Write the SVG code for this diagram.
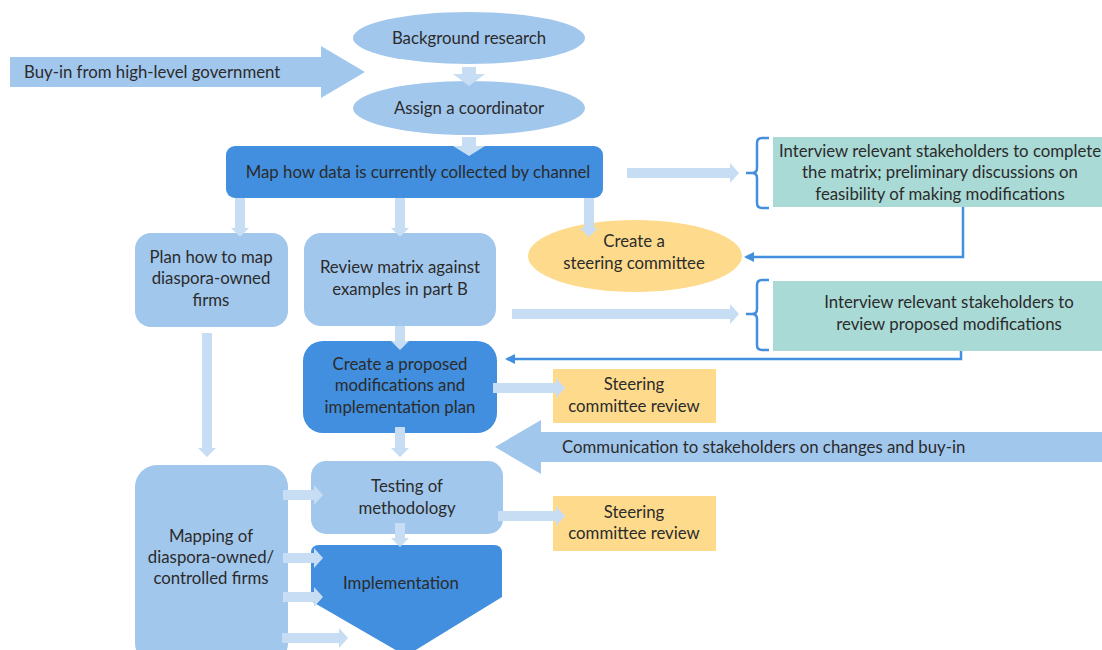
<svg xmlns="http://www.w3.org/2000/svg" width="1102" height="650" viewBox="0 0 1102 650">
<defs>
<style>
.t{font-family:Lato,"Open Sans","Liberation Sans",sans-serif;font-size:16.8px;fill:#2b2b2b;text-anchor:middle;dominant-baseline:central}
.tl{text-anchor:start}
.light{fill:#a2c7ed}
.dark{fill:#418fde}
.yel{fill:#fedb8c}
.teal{fill:#aadad6}
.arr{fill:#c7ddf4}
.ln{fill:none;stroke:#418fde;stroke-width:2.5}
</style>
<marker id="ah" viewBox="0 0 10 10" refX="8" refY="5" markerWidth="4" markerHeight="4" orient="auto">
<path d="M0,0 L10,5 L0,10 Z" fill="#418fde"/>
</marker>
</defs>
<rect width="1102" height="650" fill="#ffffff"/>

<g id="buyin">
<path class="light" d="M10,57 H321 V46 L365,72 L321,98 V87 H10 Z"/>
<text class="t tl" x="24" y="71">Buy-in from high-level government</text>
</g>

<g id="background">
<ellipse class="light" cx="469" cy="38" rx="116" ry="26"/>
<text class="t" x="469" y="37">Background research</text>
</g>

<g id="coordinator">
<ellipse class="light" cx="469" cy="108" rx="116" ry="27"/>
<text class="t" x="469" y="107">Assign a coordinator</text>
</g>

<g id="mapdata">
<rect class="dark" x="226" y="146" width="377" height="52" rx="9"/>
<text class="t" x="418" y="171">Map how data is currently collected by channel</text>
</g>

<g id="interview1">
<rect class="teal" x="773" y="137" width="329" height="70"/>
<text class="t" x="940" y="150">Interview relevant stakeholders to complete</text>
<text class="t" x="940" y="171">the matrix; preliminary discussions on</text>
<text class="t" x="940" y="193">feasibility of making modifications</text>
</g>

<g id="plan">
<rect class="light" x="135" y="233" width="153" height="94" rx="16"/>
<text class="t" x="211" y="256">Plan how to map</text>
<text class="t" x="211" y="277">diaspora-owned</text>
<text class="t" x="211" y="299">firms</text>
</g>

<g id="review">
<rect class="light" x="304" y="233" width="192" height="93" rx="17"/>
<text class="t" x="400" y="266">Review matrix against</text>
<text class="t" x="400" y="288">examples in part B</text>
</g>

<g id="steering">
<ellipse class="yel" cx="635" cy="256" rx="107" ry="36"/>
<text class="t" x="634" y="240">Create a</text>
<text class="t" x="634" y="262">steering committee</text>
</g>

<g id="interview2">
<rect class="teal" x="773" y="281" width="329" height="70"/>
<text class="t" x="949" y="301">Interview relevant stakeholders to</text>
<text class="t" x="949" y="323">review proposed modifications</text>
</g>

<g id="create">
<rect class="dark" x="303" y="341" width="194" height="92" rx="20"/>
<text class="t" x="400" y="363">Create a proposed</text>
<text class="t" x="400" y="384">modifications and</text>
<text class="t" x="400" y="406">implementation plan</text>
</g>

<g id="review1">
<rect class="yel" x="553" y="369" width="163" height="54"/>
<text class="t" x="634" y="383">Steering</text>
<text class="t" x="634" y="405">committee review</text>
</g>

<g id="communication">
<path class="light" d="M1102,432 H541 V420 L495,447 L541,474 V462 H1102 Z"/>
<text class="t tl" x="562" y="446">Communication to stakeholders on changes and buy-in</text>
</g>

<g id="mapping">
<rect class="light" x="135" y="465" width="153" height="200" rx="22"/>
<text class="t" x="211" y="535">Mapping of</text>
<text class="t" x="211" y="556">diaspora-owned/</text>
<text class="t" x="211" y="577">controlled firms</text>
</g>

<g id="testing">
<rect class="light" x="311" y="461" width="192" height="73" rx="15"/>
<text class="t" x="407" y="485">Testing of</text>
<text class="t" x="407" y="507">methodology</text>
</g>

<g id="review2">
<rect class="yel" x="553" y="496" width="163" height="55"/>
<text class="t" x="634" y="511">Steering</text>
<text class="t" x="634" y="532">committee review</text>
</g>

<g id="implementation">
<path class="dark" d="M319,545 H494 Q502,545 502,553 V597 L406,656 L311,601 V553 Q311,545 319,545 Z"/>
<text class="t" x="401" y="582">Implementation</text>
</g>

<g id="connectors">
<path class="arr" d="M462,67 H476 V74 H485 L469,86 L453,74 H462 Z"/>
<path class="arr" d="M462,137 H476 V146 H485 L469,156 L453,146 H462 Z"/>
<path class="arr" d="M235,198 H245 V228 H249 L240,237 L231,228 H235 Z"/>
<path class="arr" d="M395,198 H405 V228 H409 L400,237 L391,228 H395 Z"/>
<path class="arr" d="M584,198 H594 V228 H598 L589,237 L580,228 H584 Z"/>
<path class="arr" d="M202,333 H212 V448 H216 L207,457 L198,448 H202 Z"/>
<path class="arr" d="M395,326 H405 V341 H409 L400,350 L391,341 H395 Z"/>
<path class="arr" d="M395,427 H405 V448 H409 L400,457 L391,448 H395 Z"/>
<path class="arr" d="M395,523 H405 V538 H409 L400,547 L391,538 H395 Z"/>
<path class="arr" d="M627,168 H730 V163 L739,173 L730,183 V178 H627 Z"/>
<path class="arr" d="M512,309 H730 V304 L739,314 L730,324 V319 H512 Z"/>
<path class="arr" d="M493,383 H556 V378 L565,388 L556,398 V393 H493 Z"/>
<path class="arr" d="M498,511 H556 V506 L565,516 L556,526 V521 H498 Z"/>
<path class="arr" d="M283,490 H314 V485 L323,495 L314,505 V500 H283 Z"/>
<path class="arr" d="M283,553 H314 V548 L323,558 L314,568 V563 H283 Z"/>
<path class="arr" d="M283,592 H314 V587 L323,597 L314,607 V602 H283 Z"/>
<path class="arr" d="M282,633 H339 V628 L348,638 L339,648 V643 H282 Z"/>
<path class="ln" d="M769,138 H762 Q757,138 757,143 V168 Q757,173 752,173 H746 M752,173 Q757,173 757,178 V203 Q757,208 762,208 H769"/>
<path class="ln" d="M769,280 H762 Q757,280 757,285 V309 Q757,314 752,314 H746 M752,314 Q757,314 757,319 V345 Q757,350 762,350 H769"/>
<path class="ln" d="M963,207 V257 H746" marker-end="url(#ah)"/>
<path class="ln" d="M961,351 V359 H507" marker-end="url(#ah)"/>
</g>
</svg>
